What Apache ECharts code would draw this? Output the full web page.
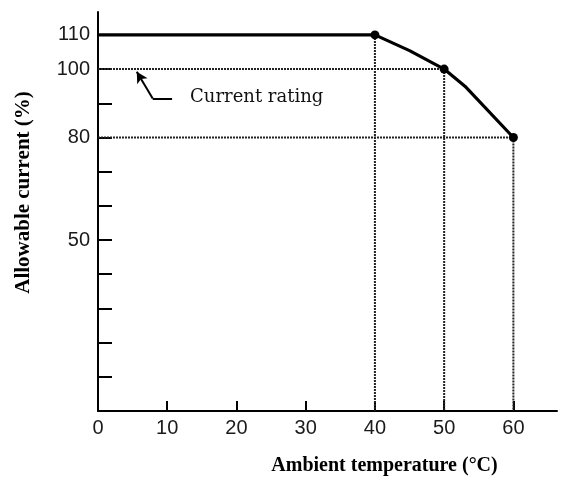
<!DOCTYPE html>
<html>
<head>
<meta charset="utf-8">
<script src="https://cdn.jsdelivr.net/npm/echarts@6/dist/echarts.min.js"></script>
<style>html,body{margin:0;padding:0;background:#fff}#c{width:562px;height:481px}</style>
</head>
<body>
<div id="c"></div>
<script>
// Derating curve: ambient temperature (°C) vs allowable current (%)
var curveTemps   = [0, 40, 45, 50, 53, 60];
var curveCurrent = [110, 110, 105.4, 100, 95, 80];
var markedTemps  = [40, 50, 60];
var xTickValues  = [10, 20, 30, 40, 50, 60];
var xLabelValues = [0, 10, 20, 30, 40, 50, 60];
var yTickValues  = [10, 20, 30, 40, 50, 60, 70, 80, 90, 100, 110];
var yLabelValues = [50, 80, 100, 110];
// dotted guide lines: [from, to] in data coordinates
var guideLines = [
  [[0, 100], [50, 100]],
  [[0, 80], [60, 80]],
  [[40, 110], [40, 0]],
  [[50, 100], [50, 0]],
  [[60, 80], [60, 0]]
];
// annotation arrow (data coords)
var arrowPath = [[10.7, 91.4], [7.9, 91.4], [5.6, 99.2]];
var annotationText = 'Current rating';
var annotationAt = [13.3, 91.8];

var curveData = curveTemps.map(function (t, i) {
  var marked = markedTemps.indexOf(t) >= 0;
  return { value: [t, curveCurrent[i]], symbolSize: marked ? 9 : 0 };
});

var series = [];
guideLines.forEach(function (g) {
  series.push({
    type: 'line', data: g, symbol: 'none', silent: true,
    lineStyle: { color: '#222', width: 2, type: [2, 1] }, z: 1
  });
});
series.push({
  type: 'line', data: curveData, symbol: 'circle',
  itemStyle: { color: '#000' },
  lineStyle: { color: '#000', width: 3.2 }, z: 5
});
series.push({
  type: 'line', data: [], symbol: 'none',
  markLine: {
    silent: true, animation: false,
    lineStyle: { color: '#000', width: 2, type: 'solid' },
    label: { show: false },
    data: [
      [{ coord: arrowPath[0], symbol: 'none' }, { coord: arrowPath[1], symbol: 'none' }],
      [{ coord: arrowPath[1], symbol: 'none' }, { coord: arrowPath[2], symbol: 'arrow', symbolSize: [9, 11] }]
    ]
  },
  markPoint: {
    silent: true, symbol: 'rect', symbolSize: 0,
    label: { show: true, position: 'right', distance: 0, formatter: annotationText,
      color: '#111', fontFamily: 'DejaVu Serif', fontSize: 18 },
    data: [{ coord: annotationAt }]
  }
});

var chart = echarts.init(document.getElementById('c'), null, { renderer: 'canvas' });
chart.setOption({
  animation: false,
  backgroundColor: '#fff',
  grid: { left: 98, right: 5, top: 12, bottom: 64, containLabel: false },
  xAxis: {
    type: 'value', min: 0, max: 66.3,
    axisLine: { show: true, lineStyle: { color: '#000', width: 2 } },
    axisTick: { show: true, inside: true, length: 10, customValues: xTickValues, lineStyle: { color: '#000', width: 2 } },
    axisLabel: { customValues: xLabelValues, color: '#1a1a1a', fontFamily: 'Liberation Sans', fontSize: 20, margin: 7 },
    splitLine: { show: false },
    name: 'Ambient temperature (°C)', nameLocation: 'middle', nameGap: 45,
    nameTextStyle: { color: '#000', fontFamily: 'Liberation Serif', fontWeight: 'bold', fontSize: 20, padding: [0, 0, 0, 114] }
  },
  yAxis: {
    type: 'value', min: 0, max: 116.7,
    axisLine: { show: true, lineStyle: { color: '#000', width: 2 } },
    axisTick: { show: true, inside: true, length: 14, customValues: yTickValues, lineStyle: { color: '#000', width: 2 } },
    axisLabel: { customValues: yLabelValues, color: '#1a1a1a', fontFamily: 'Liberation Sans', fontSize: 20, margin: 8 },
    splitLine: { show: false },
    name: 'Allowable current (%)', nameLocation: 'middle', nameGap: 64, nameRotate: 90,
    nameTextStyle: { color: '#000', fontFamily: 'Liberation Serif', fontWeight: 'bold', fontSize: 21, padding: [0, 0, 0, 38] }
  },
  series: series
});
</script>
</body>
</html>
